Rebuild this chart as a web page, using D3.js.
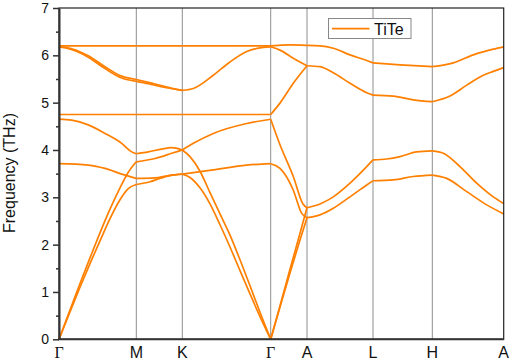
<!DOCTYPE html>
<html>
<head>
<meta charset="utf-8">
<script src="https://cdn.jsdelivr.net/npm/d3@7"></script>
<style>
  body { margin: 0; background: #fff; }
  svg { display: block; font-family: Arial, "Liberation Sans", sans-serif; }
</style>
</head>
<body>
<script>
// high symmetry path
const kLabels = ["Γ", "M", "K", "Γ", "A", "L", "H", "A"]
const kPoints = [0, 0.773, 1.233, 2.117, 2.48, 3.14, 3.733, 4.447]
const yTicks = [0, 1, 2, 3, 4, 5, 6, 7]
const yMinor = [0.5, 1.5, 2.5, 3.5, 4.5, 5.5, 6.5]
const seriesName = "TiTe"

// bands, [k, THz]
const band1 = [[0, 6.2], [0.773, 6.2], [1.233, 6.2], [2.117, 6.2],
  [2.2, 6.21], [2.3, 6.22], [2.48, 6.21],
  [2.61, 6.2], [2.743, 6.15], [2.91, 6.01], [3.077, 5.89], [3.14, 5.84],
  [3.41, 5.8], [3.733, 5.76], [3.943, 5.84], [4.143, 6.01], [4.343, 6.13], [4.447, 6.18]]
const band2 = [[0, 6.18], [0.06, 6.17], [0.293, 5.99], [0.46, 5.76], [0.627, 5.56], [0.773, 5.49],
  [0.893, 5.43], [1.06, 5.34], [1.233, 5.26],
  [1.343, 5.3], [1.543, 5.58], [1.71, 5.86], [1.877, 6.08], [2.043, 6.17], [2.117, 6.18],
  [2.21, 6.11], [2.343, 5.94], [2.48, 5.78],
  [2.61, 5.76], [2.743, 5.63], [2.91, 5.41], [3.077, 5.21], [3.14, 5.16],
  [3.343, 5.14], [3.543, 5.06], [3.733, 5.02], [3.91, 5.14], [4.077, 5.37], [4.243, 5.58], [4.343, 5.66], [4.447, 5.74]]
const band2b = [[0, 6.18], [0.06, 6.16], [0.293, 5.96], [0.46, 5.72], [0.627, 5.52], [0.773, 5.45],
  [0.893, 5.4], [1.06, 5.32], [1.233, 5.26]]
const band3 = [[0, 4.75], [0.773, 4.75], [1.233, 4.75], [2.117, 4.75],
  [2.21, 4.99], [2.343, 5.41], [2.48, 5.78]]
const band4 = [[0, 4.65], [0.127, 4.63], [0.293, 4.53], [0.46, 4.35], [0.627, 4.14], [0.727, 3.96], [0.773, 3.92],
  [0.893, 3.96], [1.027, 4.02], [1.127, 4.05], [1.233, 4.0],
  [1.31, 3.86], [1.41, 3.55], [1.51, 3.1], [1.61, 2.65], [1.71, 2.2], [1.81, 1.68], [1.91, 1.13], [2.01, 0.57], [2.117, 0],
  [2.21, 0.71], [2.31, 1.48], [2.41, 2.24], [2.48, 2.78],
  [2.61, 2.86], [2.743, 3.01], [2.91, 3.3], [3.077, 3.65], [3.14, 3.79],
  [3.277, 3.81], [3.41, 3.86], [3.577, 3.96], [3.733, 3.98],
  [3.843, 3.93], [4.01, 3.65], [4.177, 3.3], [4.343, 3.01], [4.447, 2.87]]
const band5 = [[0, 0], [0.11, 0.62], [0.21, 1.18], [0.31, 1.72], [0.41, 2.25], [0.51, 2.75], [0.61, 3.2], [0.69, 3.52], [0.773, 3.75],
  [0.96, 3.82], [1.127, 3.93], [1.233, 4.0],
  [1.343, 4.14], [1.543, 4.35], [1.877, 4.56], [2.117, 4.65],
  [2.21, 4.11], [2.343, 3.44], [2.44, 2.86], [2.48, 2.78]]
const band6 = [[0, 3.71], [0.293, 3.68], [0.46, 3.61], [0.627, 3.49], [0.773, 3.4],
  [0.96, 3.41], [1.093, 3.46], [1.233, 3.49],
  [1.543, 3.58], [1.877, 3.68], [2.117, 3.71],
  [2.21, 3.61], [2.343, 3.15], [2.427, 2.66], [2.48, 2.57],
  [2.61, 2.63], [2.743, 2.77], [2.91, 3.01], [3.077, 3.26], [3.14, 3.35],
  [3.343, 3.37], [3.543, 3.44], [3.733, 3.47], [3.877, 3.4], [4.077, 3.12], [4.277, 2.84], [4.447, 2.65]]
const band7 = [[0, 0], [0.11, 0.58], [0.21, 1.1], [0.31, 1.6], [0.41, 2.08], [0.51, 2.55], [0.61, 2.95], [0.69, 3.18], [0.773, 3.27],
  [0.91, 3.33], [1.01, 3.4], [1.11, 3.46], [1.233, 3.49],
  [1.31, 3.42], [1.41, 3.2], [1.51, 2.86], [1.61, 2.42], [1.71, 1.95], [1.81, 1.45], [1.91, 0.96], [2.01, 0.48], [2.117, 0],
  [2.21, 0.68], [2.31, 1.4], [2.41, 2.1], [2.48, 2.57]]
const bands = [band1, band2, band2b, band3, band4, band5, band6, band7]

let w = 512, h = 360
let m = {left: 59, right: 8.3, top: 8, bottom: 20.7}
let orange = "#ff8000"

let svg = d3.select("body").append("svg")
    .attr("width", w)
    .attr("height", h)

let x = d3.scaleLinear().domain([0, kPoints[kPoints.length - 1]]).range([m.left, w - m.right])
let y = d3.scaleLinear().domain([0, 7]).range([h - m.bottom, m.top])

// vertical lines at high symmetry points
svg.append("g").selectAll("line")
    .data(kPoints.slice(1, -1))
    .enter().append("line")
    .attr("x1", d => x(d)).attr("x2", d => x(d))
    .attr("y1", y(0)).attr("y2", y(7))
    .attr("stroke", "#8e8e8e")
    .attr("stroke-width", 1)

// bands, drawn segment by segment so the kinks stay sharp
let line = d3.line().x(d => x(d[0])).y(d => y(d[1])).curve(d3.curveMonotoneX)
let g = svg.append("g")
bands.forEach(b => {
    for (let i = 0; i < kPoints.length - 1; i++) {
        let seg = b.filter(p => p[0] >= kPoints[i] - 1e-6 && p[0] <= kPoints[i + 1] + 1e-6)
        if (seg.length < 2) continue
        g.append("path")
            .attr("d", line(seg))
            .attr("fill", "none")
            .attr("stroke", orange)
            .attr("stroke-width", 1.7)
    }
})

// frame
svg.append("rect")
    .attr("x", m.left).attr("y", m.top)
    .attr("width", w - m.right - m.left).attr("height", h - m.bottom - m.top)
    .attr("fill", "none")
    .attr("stroke", "#222")
    .attr("stroke-width", 1.2)

// y axis
let yAxis = svg.append("g")
    .attr("transform", "translate(" + m.left + ",0)")
    .call(d3.axisLeft(y).tickValues(yTicks).tickSize(6).tickSizeOuter(0).tickPadding(4).tickFormat(d3.format("d")))
yAxis.select(".domain").attr("stroke", "#333").attr("stroke-width", 2)
yAxis.selectAll(".tick line").attr("stroke", "#333").attr("stroke-width", 1.5)
yAxis.selectAll("text").attr("font-size", 14).attr("font-family", "Arial, 'Liberation Sans', sans-serif").attr("fill", "#111")
let yAxisMinor = svg.append("g")
    .attr("transform", "translate(" + m.left + ",0)")
    .call(d3.axisLeft(y).tickValues(yMinor).tickSize(3).tickFormat(""))
yAxisMinor.select(".domain").remove()
yAxisMinor.selectAll(".tick line").attr("stroke", "#333").attr("stroke-width", 1.5)

// bottom line
svg.append("line")
    .attr("x1", m.left - 1).attr("x2", w - m.right)
    .attr("y1", y(0)).attr("y2", y(0))
    .attr("stroke", "#333").attr("stroke-width", 2)

// k labels
svg.append("g").selectAll("text")
    .data(kLabels.map((l, i) => [l, kPoints[i]]))
    .enter().append("text")
    .attr("x", d => x(d[1]))
    .attr("y", 357.5)
    .attr("text-anchor", "middle")
    .attr("font-size", 16)
    .attr("font-family", d => d[0] == "Γ" ? "'Liberation Serif', 'DejaVu Serif', serif" : "Arial, 'Liberation Sans', sans-serif")
    .attr("fill", "#111")
    .text(d => d[0])

// y title
svg.append("text")
    .attr("transform", "translate(15," + 173 + ") rotate(-90)")
    .attr("text-anchor", "middle")
    .attr("font-size", 16)
    .attr("fill", "#111")
    .text("Frequency (THz)")

// legend
let legend = svg.append("g")
legend.append("rect")
    .attr("x", 328.5).attr("y", 18.5)
    .attr("width", 82.5).attr("height", 20)
    .attr("fill", "#fff")
    .attr("stroke", "#888")
    .attr("stroke-width", 1)
legend.append("line")
    .attr("x1", 332).attr("x2", 369.5)
    .attr("y1", 28.7).attr("y2", 28.7)
    .attr("stroke", orange).attr("stroke-width", 1.7)
legend.append("text")
    .attr("x", 374)
    .attr("y", 34.5)
    .attr("font-size", 16)
    .attr("fill", "#111")
    .text(seriesName)
</script>
</body>
</html>
